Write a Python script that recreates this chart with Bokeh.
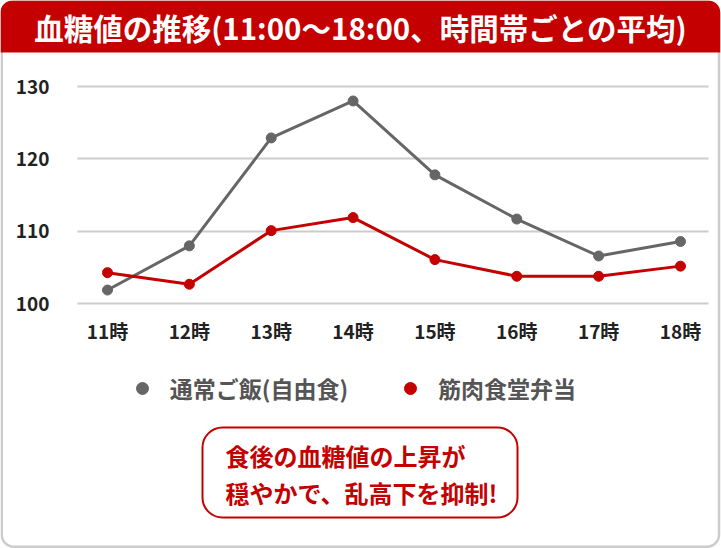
from bokeh.plotting import figure
from bokeh.models import (ColumnDataSource, Range1d, FixedTicker, BoxAnnotation,
                          Label, Legend, LegendItem)
from bokeh.embed import file_html
from bokeh.resources import INLINE

# data
hours = ["11時", "12時", "13時", "14時", "15時", "16時", "17時", "18時"]
normal_meal = [101.9, 108.0, 122.9, 128.0, 117.8, 111.7, 106.6, 108.6]
kinniku_bento = [104.3, 102.7, 110.1, 111.9, 106.1, 103.8, 103.8, 105.2]
y_ticks = [100, 110, 120, 130]

title_text = "血糖値の推移(11:00〜18:00、時間帯ごとの平均)"
legend_names = ["通常ご飯(自由食)", "筋肉食堂弁当"]
note_lines = ["食後の血糖値の上昇が", "穏やかで、乱高下を抑制!"]

W, H = 721, 548
FONT = "Noto Sans CJK JP"
RED = "#c40000"
GRAY = "#666666"

# the frame fills the whole canvas; the ranges are chosen so that the
# chart part lands where the reference draws it (x=0 at 107px, 7 at 680px,
# 100 at 303px, 130 at 86px)
x_step = (680 - 107) / 7
y_step = (303.3 - 86) / 30
x_lo, x_hi = -107 / x_step, (W - 107) / x_step
y_hi, y_lo = 100 + 303.3 / y_step, 100 - (H - 303.3) / y_step
grid_lo, grid_hi = (77 - 107) / x_step, (708 - 107) / x_step

source = ColumnDataSource(dict(x=list(range(len(hours))), normal=normal_meal,
                               bento=kinniku_bento))

p = figure(width=W, height=H, output_backend="svg", toolbar_location=None,
           tools="", x_range=Range1d(x_lo, x_hi), y_range=Range1d(y_lo, y_hi),
           min_border=0)
p.background_fill_color = "white"
p.border_fill_color = "white"
p.outline_line_color = None

# axes sit inside the frame
p.xaxis.fixed_location = 100
p.yaxis.fixed_location = grid_lo
p.xaxis.ticker = FixedTicker(ticks=list(range(len(hours))))
p.xaxis.major_label_overrides = {i: h for i, h in enumerate(hours)}
p.yaxis.ticker = FixedTicker(ticks=y_ticks)
for ax in (p.xaxis, p.yaxis):
    ax.axis_line_color = None
    ax.major_tick_line_color = None
    ax.minor_tick_line_color = None
    ax.major_tick_in = 0
    ax.major_tick_out = 0
    ax.major_label_text_font = FONT
    ax.major_label_text_font_style = "bold"
    ax.major_label_text_color = "#222222"
    ax.major_label_text_font_size = "19px"
p.yaxis.major_label_standoff = 28
p.xaxis.major_label_standoff = 13

p.xgrid.grid_line_color = None
p.ygrid.ticker = FixedTicker(ticks=y_ticks)
p.ygrid.cross_bounds = (grid_lo, grid_hi)
p.ygrid.grid_line_color = "#cccccc"
p.ygrid.grid_line_width = 2

# series
p.line("x", "normal", source=source, line_color=GRAY, line_width=3)
dots_normal = p.scatter("x", "normal", source=source, size=10, color=GRAY)
p.line("x", "bento", source=source, line_color=RED, line_width=3)
dots_bento = p.scatter("x", "bento", source=source, size=10, color=RED)


def canvas_box(**kw):
    return BoxAnnotation(left_units="canvas", right_units="canvas",
                         top_units="canvas", bottom_units="canvas", **kw)


# outer frame and header
p.add_layout(canvas_box(left=1.25, right=W - 2.5, top=1, bottom=H - 1.75,
                        fill_color=None, line_color="#cccccc", line_alpha=1,
                        line_width=2.5, border_radius=12, level="underlay"))
p.add_layout(canvas_box(left=0, right=W - 1.25, top=0, bottom=52,
                        fill_color=RED, fill_alpha=1, line_color=None,
                        border_radius=(12, 12, 0, 0)))
p.add_layout(Label(x=360, y=26, x_units="canvas", y_units="canvas",
                   text=title_text, text_align="center", text_baseline="middle",
                   text_font=FONT, text_font_style="bold", text_font_size="29.5px",
                   text_color="white"))

# legend, one per item so each sits where the reference puts it
for name, rend, dot_x in zip(legend_names, (dots_normal, dots_bento), (141.7, 410)):
    lg = Legend(items=[LegendItem(label=name, renderers=[rend])],
                location=(dot_x - 15, H - 390 - 15),
                glyph_width=30, glyph_height=30, label_standoff=13,
                padding=0, margin=0, border_line_color=None,
                background_fill_alpha=0, label_text_font=FONT,
                label_text_font_style="bold", label_text_font_size="23px",
                label_text_color="#555555")
    p.add_layout(lg)

# callout
p.add_layout(canvas_box(left=202, right=517, top=427, bottom=517,
                        fill_color="white", fill_alpha=1, line_color=RED,
                        line_alpha=1, line_width=2, border_radius=20))
for line, ly in zip(note_lines, (455, 492)):
    p.add_layout(Label(x=225, y=ly, x_units="canvas", y_units="canvas",
                       text=line, text_baseline="middle", text_font=FONT,
                       text_font_style="bold", text_font_size="24px",
                       text_color=RED))

open("out.html", "w").write(file_html(p, INLINE))
